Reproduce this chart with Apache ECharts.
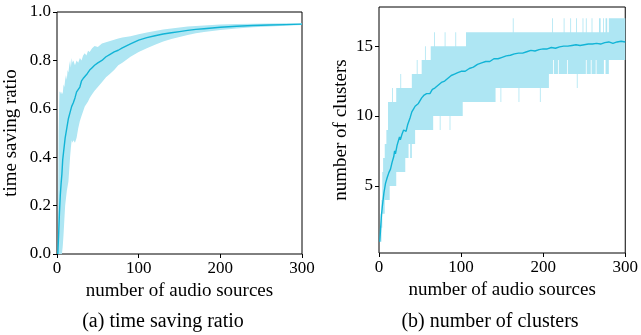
<!DOCTYPE html>
<html>
<head>
<meta charset="utf-8">
<script src="https://cdn.jsdelivr.net/npm/echarts@6/dist/echarts.min.js"></script>
<style>
  html, body { margin: 0; padding: 0; background: #fff; }
  #chart { width: 641px; height: 335px; }
</style>
</head>
<body>
<div id="chart"></div>
<script>
// (a) time saving ratio: mean curve
const ratioX = [1, 2, 3, 4, 5, 6, 7, 8, 9, 10, 12, 14, 16, 18, 20, 22, 24, 26, 28, 30, 32, 34, 37, 40, 43, 46, 50, 55, 60, 65, 70, 75, 80, 90, 100, 110, 120, 130, 140, 150, 160, 170, 180, 190, 200, 220, 240, 260, 280, 300]
const ratioMean = [0.0, 0.08, 0.17, 0.24, 0.29, 0.33, 0.39, 0.42, 0.45, 0.48, 0.52, 0.56, 0.585, 0.61, 0.625, 0.645, 0.67, 0.675, 0.69, 0.715, 0.725, 0.73, 0.745, 0.76, 0.77, 0.78, 0.79, 0.80, 0.815, 0.825, 0.835, 0.842, 0.852, 0.868, 0.884, 0.894, 0.902, 0.909, 0.914, 0.919, 0.924, 0.928, 0.931, 0.934, 0.937, 0.941, 0.944, 0.946, 0.948, 0.950]
// (a) min / max envelope
const ratioBandX = [1, 2, 3, 4, 5, 6, 7, 8, 9, 10, 11, 12, 13, 14, 15, 16, 17, 18, 19, 20, 22, 24, 26, 28, 30, 32, 34, 36, 38, 40, 43, 46, 50, 55, 60, 65, 70, 75, 80, 90, 100, 110, 120, 130, 140, 150, 160, 170, 180, 190, 200, 220, 240, 260, 280, 300]
const ratioLow = [0, 0, 0, 0, 0, 0, 0.03, 0.08, 0.14, 0.2, 0.23, 0.26, 0.28, 0.3, 0.35, 0.4, 0.44, 0.47, 0.46, 0.47, 0.46, 0.48, 0.52, 0.55, 0.57, 0.59, 0.61, 0.62, 0.63, 0.645, 0.66, 0.675, 0.69, 0.71, 0.73, 0.745, 0.76, 0.78, 0.79, 0.815, 0.835, 0.85, 0.865, 0.878, 0.888, 0.897, 0.905, 0.912, 0.917, 0.922, 0.926, 0.932, 0.937, 0.94, 0.943, 0.946]
const ratioHigh = [0, 0.5, 0.67, 0.67, 0.66, 0.67, 0.66, 0.7, 0.69, 0.72, 0.74, 0.72, 0.76, 0.75, 0.78, 0.8, 0.77, 0.81, 0.79, 0.8, 0.78, 0.8, 0.79, 0.81, 0.8, 0.82, 0.83, 0.82, 0.84, 0.835, 0.85, 0.86, 0.855, 0.87, 0.875, 0.88, 0.885, 0.89, 0.895, 0.9, 0.908, 0.915, 0.922, 0.928, 0.932, 0.936, 0.94, 0.942, 0.944, 0.946, 0.948, 0.95, 0.951, 0.952, 0.953, 0.954]

// (b) number of clusters: mean curve
const clusterX = [1, 2, 3, 4, 5, 6, 7, 8, 10, 12, 14, 16, 18, 19, 20, 22, 24, 25, 26, 28, 30, 32, 33, 35, 38, 40, 42, 44, 46, 48, 50, 52, 55, 58, 60, 62, 65, 68, 72, 76, 80, 84, 88, 92, 96, 100, 105, 110, 115, 120, 125, 130, 135, 140, 145, 150, 155, 160, 165, 170, 175, 180, 185, 190, 195, 200, 205, 210, 215, 220, 225, 230, 235, 240, 245, 250, 255, 260, 265, 270, 275, 280, 285, 290, 295, 300]
const clusterMean = [1.0, 2.0, 2.9, 3.5, 4.0, 4.5, 4.85, 5.2, 5.6, 5.95, 6.2, 6.7, 7.1, 7.5, 7.3, 7.9, 8.3, 8.5, 8.3, 8.7, 9.0, 9.1, 8.9, 9.4, 9.9, 10.3, 10.5, 10.7, 10.6, 10.9, 11.0, 11.3, 11.5, 11.6, 11.7, 11.6, 11.9, 12.0, 12.2, 12.4, 12.5, 12.7, 12.9, 13.0, 13.1, 13.2, 13.2, 13.4, 13.5, 13.7, 13.8, 13.9, 13.9, 14.1, 14.1, 14.2, 14.3, 14.35, 14.45, 14.5, 14.5, 14.6, 14.7, 14.65, 14.75, 14.8, 14.8, 14.9, 14.85, 14.95, 15.0, 15.0, 15.05, 15.1, 15.05, 15.1, 15.15, 15.15, 15.2, 15.15, 15.25, 15.3, 15.2, 15.3, 15.35, 15.3]
// (b) min / max envelope, each value holds until the next breakpoint
const clusterBandX = [1, 2, 3, 4, 5, 7, 9, 11, 13, 16, 17, 21, 26, 27, 32, 36, 38, 40, 44, 46, 47, 52, 56, 57, 63, 66, 67, 68, 74, 75, 80, 81, 86, 87, 93, 94, 102, 106, 142, 148, 149, 163, 164, 170, 171, 196, 197, 207, 211, 212, 213, 218, 219, 225, 226, 229, 230, 233, 234, 240, 241, 242, 248, 249, 252, 253, 258, 259, 260, 264, 265, 268, 270, 273, 274, 276, 278, 280, 300]
const clusterLow = [1, 1, 2, 3, 3, 4, 4, 4, 5, 5, 5, 6, 6, 6, 7, 8, 7, 8, 9, 9, 9, 9, 9, 9, 9, 10, 10, 10, 9, 10, 10, 10, 9, 10, 10, 10, 11, 11, 12, 11, 12, 12, 12, 11, 12, 11, 12, 13, 13, 14, 13, 14, 13, 13, 13, 14, 13, 13, 13, 13, 12, 13, 13, 13, 14, 13, 14, 13, 13, 14, 13, 13, 13, 13, 14, 13, 13, 14, 14]
const clusterHigh = [1, 3, 4, 6, 7, 8, 9, 11, 11, 12, 11, 12, 13, 12, 12, 12, 12, 13, 13, 14, 13, 14, 15, 14, 15, 15, 16, 15, 15, 15, 16, 15, 15, 15, 16, 15, 15, 16, 16, 16, 16, 17, 16, 16, 16, 16, 16, 16, 17, 16, 16, 16, 16, 17, 16, 16, 16, 17, 16, 17, 16, 16, 17, 16, 17, 16, 16, 17, 16, 16, 16, 17, 16, 17, 16, 17, 16, 17, 17]

const xTicks = [0, 100, 200, 300]
const ratioTicks = [0, 0.2, 0.4, 0.6, 0.8, 1.0]
const clusterTicks = [5, 10, 15]

const LINE = '#12b4d6'
const FILL = '#aee6f3'
const FONT = 'Liberation Serif'

const pairs = (xs, ys) => xs.map((x, i) => [x, ys[i]])
const rows = (xs, lo, hi) => xs.map((x, i) => [x, lo[i], hi[i]])

// one polygon between min and max, drawn on the first item only
function bandRenderer(xs, lo, hi, stepped) {
  return function (params, api) {
    if (params.dataIndex !== 0) return null
    const top = []
    const bottom = []
    for (let i = 0; i < xs.length; i++) {
      top.push(api.coord([xs[i], hi[i]]))
      bottom.push(api.coord([xs[i], lo[i]]))
      if (stepped && i < xs.length - 1) {
        top.push(api.coord([xs[i + 1], hi[i]]))
        bottom.push(api.coord([xs[i + 1], lo[i]]))
      }
    }
    return {
      type: 'polygon',
      shape: { points: top.concat(bottom.reverse()) },
      style: { fill: FILL },
      silent: true,
    }
  }
}

function xAxisFor(gridIndex) {
  return {
    gridIndex,
    type: 'value',
    min: 0,
    max: 300,
    name: 'number of audio sources',
    nameLocation: 'middle',
    nameGap: 23,
    nameTextStyle: { fontFamily: FONT, fontSize: 19, color: '#000' },
    axisLine: { show: false },
    axisTick: { show: true, inside: false, length: 4, lineStyle: { color: '#000' }, customValues: xTicks },
    axisLabel: { fontFamily: FONT, fontSize: 17, color: '#000', margin: 6, customValues: xTicks },
    splitLine: { show: false },
  }
}

const option = {
  animation: false,
  backgroundColor: '#fff',
  grid: [
    { left: 57, top: 12, width: 245, height: 242, show: true, borderColor: '#000', borderWidth: 1, backgroundColor: 'transparent' },
    { left: 379, top: 7, width: 248, height: 246, show: true, borderColor: '#000', borderWidth: 1, backgroundColor: 'transparent' },
  ],
  xAxis: [xAxisFor(0), xAxisFor(1)],
  yAxis: [
    {
      gridIndex: 0,
      type: 'value',
      min: 0,
      max: 1,
      name: 'time saving ratio',
      nameLocation: 'middle',
      nameGap: 36,
      nameTextStyle: { fontFamily: FONT, fontSize: 19, color: '#000' },
      axisLine: { show: false },
      axisTick: { show: true, length: 4, lineStyle: { color: '#000' }, customValues: ratioTicks },
      axisLabel: { fontFamily: FONT, fontSize: 17, color: '#000', margin: 6, customValues: ratioTicks, formatter: (v) => v.toFixed(1) },
      splitLine: { show: false },
    },
    {
      gridIndex: 1,
      type: 'value',
      min: 0.2,
      max: 17.8,
      name: 'number of clusters',
      nameLocation: 'middle',
      nameGap: 28,
      nameTextStyle: { fontFamily: FONT, fontSize: 19, color: '#000' },
      axisLine: { show: false },
      axisTick: { show: true, length: 4, lineStyle: { color: '#000' }, customValues: clusterTicks },
      axisLabel: { fontFamily: FONT, fontSize: 17, color: '#000', margin: 6, customValues: clusterTicks },
      splitLine: { show: false },
    },
  ],
  graphic: [
    { type: 'text', x: 163, y: 322, style: { text: '(a) time saving ratio', font: '20px "Liberation Serif"', fill: '#000', textAlign: 'center', textVerticalAlign: 'middle' } },
    { type: 'text', x: 490, y: 322, style: { text: '(b) number of clusters', font: '20px "Liberation Serif"', fill: '#000', textAlign: 'center', textVerticalAlign: 'middle' } },
  ],
  series: [
    {
      type: 'custom', xAxisIndex: 0, yAxisIndex: 0,
      data: rows(ratioBandX, ratioLow, ratioHigh),
      encode: { x: 0, y: [1, 2] },
      renderItem: bandRenderer(ratioBandX, ratioLow, ratioHigh, false),
      silent: true, z: 1,
    },
    {
      type: 'line', xAxisIndex: 0, yAxisIndex: 0,
      data: pairs(ratioX, ratioMean),
      showSymbol: false, lineStyle: { color: LINE, width: 1.4 }, z: 5,
    },
    {
      type: 'custom', xAxisIndex: 1, yAxisIndex: 1,
      data: rows(clusterBandX, clusterLow, clusterHigh),
      encode: { x: 0, y: [1, 2] },
      renderItem: bandRenderer(clusterBandX, clusterLow, clusterHigh, true),
      silent: true, z: 1,
    },
    {
      type: 'line', xAxisIndex: 1, yAxisIndex: 1,
      data: pairs(clusterX, clusterMean),
      showSymbol: false, lineStyle: { color: LINE, width: 1.4 }, z: 5,
    },
  ],
}

const chart = echarts.init(document.getElementById('chart'), null, { renderer: 'canvas' })
chart.setOption(option)
</script>
</body>
</html>
